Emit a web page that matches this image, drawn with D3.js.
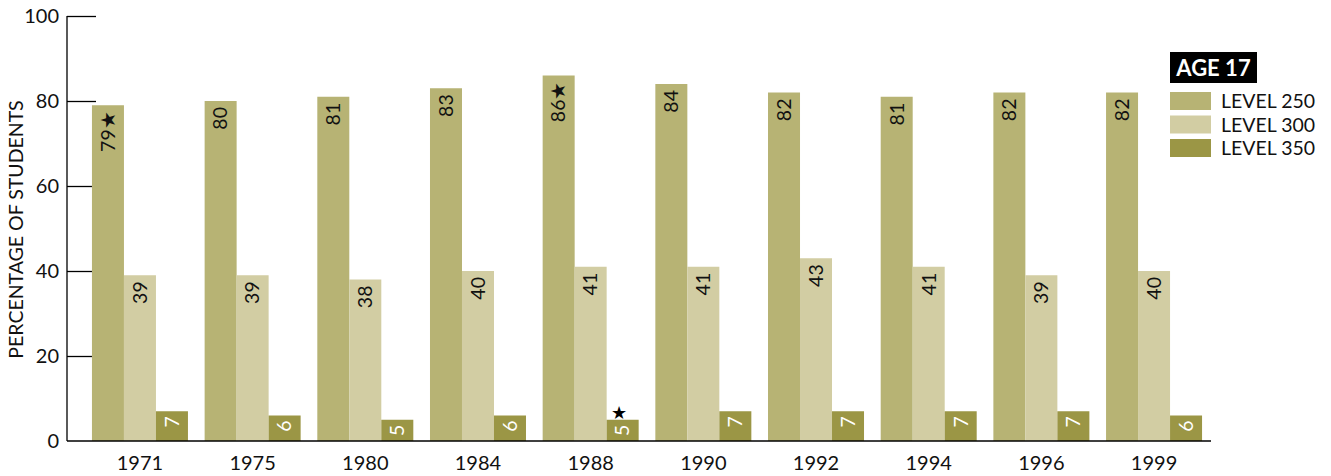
<!DOCTYPE html>
<html>
<head>
<meta charset="utf-8">
<script src="https://cdn.jsdelivr.net/npm/d3@7"></script>
<style>
  body { margin: 0; background: #fff; }
  svg { display: block; font-family: Lato, "Open Sans", sans-serif; }
</style>
</head>
<body>
<svg id="chart"></svg>
<script>
// chart data
var years = ["1971", "1975", "1980", "1984", "1988", "1990", "1992", "1994", "1996", "1999"];
var levels = ["LEVEL 250", "LEVEL 300", "LEVEL 350"];
var level250 = [79, 80, 81, 83, 86, 84, 82, 81, 82, 82];
var level300 = [39, 39, 38, 40, 41, 41, 43, 41, 39, 40];
var level350 = [7, 6, 5, 6, 5, 7, 7, 7, 7, 6];
// significance stars: [year, level index]
var starred = [["1971", 0], ["1988", 0], ["1988", 2]];
var yTicks = [0, 20, 40, 60, 80, 100];
var colors = ["#b7b374", "#d2cda3", "#9b9645"];

var width = 1331, height = 476;
var svg = d3.select("#chart").attr("width", width).attr("height", height);

var series = [level250, level300, level350];
var rows = years.map(function (yr, i) {
  return { year: yr, values: series.map(function (s) { return s[i]; }) };
});

// scales
var y = d3.scaleLinear().domain([0, 100]).range([441, 16]);
var x0 = d3.scaleBand().domain(years).range([83.5, 1210.5])
  .paddingInner(0.148).paddingOuter(0.075);
var x1 = d3.scaleBand().domain([0, 1, 2]).range([0, x0.bandwidth()]);

// y axis with ticks drawn to the right (behind bars)
var yAxis = svg.append("g")
  .attr("transform", "translate(67,0)")
  .call(d3.axisRight(y).tickValues(yTicks.filter(function (d) { return d > 0; }))
    .tickSize(29).tickFormat(""));
yAxis.select(".domain").remove();
yAxis.selectAll("line").attr("stroke", "#000").attr("stroke-width", 1.3);

svg.append("line")
  .attr("x1", 67).attr("x2", 67).attr("y1", y(100)).attr("y2", y(0))
  .attr("stroke", "#000").attr("stroke-width", 1.3);

svg.append("g").selectAll("text")
  .data(yTicks).enter().append("text")
  .attr("x", 59).attr("y", function (d) { return y(d); })
  .attr("dy", "0.35em")
  .attr("text-anchor", "end")
  .attr("font-size", 20)
  .attr("fill", "#111")
  .text(function (d) { return d; });

svg.append("text")
  .attr("transform", "translate(23," + (y(50) + 1) + ") rotate(-90)")
  .attr("text-anchor", "middle")
  .attr("font-size", 19.5)
  .attr("fill", "#111")
  .text("PERCENTAGE OF STUDENTS");

// bars
var groups = svg.append("g").selectAll("g")
  .data(rows).enter().append("g")
  .attr("transform", function (d) { return "translate(" + x0(d.year) + ",0)"; });

groups.selectAll("rect")
  .data(function (d) { return d.values.map(function (v, k) { return { year: d.year, k: k, v: v }; }); })
  .enter().append("rect")
  .attr("x", function (d) { return x1(d.k); })
  .attr("width", x1.bandwidth())
  .attr("y", function (d) { return y(d.v); })
  .attr("height", function (d) { return y(0) - y(d.v); })
  .attr("fill", function (d) { return colors[d.k]; });

// rotated value labels
groups.selectAll("text.val")
  .data(function (d) { return d.values.map(function (v, k) { return { year: d.year, k: k, v: v }; }); })
  .enter().append("text")
  .attr("class", "val")
  .attr("transform", function (d) {
    var off = d.k === 2 ? 5 : 6;
    return "translate(" + (x1(d.k) + x1.bandwidth() / 2) + "," + (y(d.v) + off) + ") rotate(-90)";
  })
  .attr("text-anchor", "end")
  .attr("dy", "0.35em")
  .attr("font-size", 19.5)
  .attr("fill", function (d) { return d.k === 2 ? "#fff" : "#111"; })
  .text(function (d) {
    var star = starred.some(function (s) { return s[0] === d.year && s[1] === d.k && d.k !== 2; });
    return d.v + (star ? "\u2605" : "");
  });

// star above the small bar
starred.filter(function (s) { return s[1] === 2; }).forEach(function (s) {
  var i = years.indexOf(s[0]);
  svg.append("text")
    .attr("x", x0(s[0]) + x1(2) + x1.bandwidth() / 2 - 4)
    .attr("y", y(level350[i]) - 0.5)
    .attr("text-anchor", "middle")
    .attr("font-size", 18)
    .attr("fill", "#000")
    .text("\u2605");
});

// x axis baseline
svg.append("line")
  .attr("x1", 67).attr("x2", 1211).attr("y1", y(0)).attr("y2", y(0))
  .attr("stroke", "#000").attr("stroke-width", 1.3);

svg.append("g").selectAll("text")
  .data(years).enter().append("text")
  .attr("x", function (d) { return x0(d) + x0.bandwidth() / 2; })
  .attr("y", 470)
  .attr("text-anchor", "middle")
  .attr("font-size", 20)
  .attr("fill", "#111")
  .text(function (d) { return d; });

// legend
var legend = svg.append("g");
legend.append("rect")
  .attr("x", 1170).attr("y", 52).attr("width", 87).attr("height", 31)
  .attr("fill", "#000");
legend.append("text")
  .attr("x", 1213.5).attr("y", 75.5)
  .attr("text-anchor", "middle")
  .attr("font-size", 22).attr("font-weight", "bold")
  .attr("fill", "#fff")
  .text("AGE 17");

var items = legend.selectAll("g.item")
  .data(levels).enter().append("g")
  .attr("transform", function (d, i) { return "translate(1170," + (92 + i * 23.5) + ")"; });
items.append("rect")
  .attr("width", 41).attr("height", 18)
  .attr("fill", function (d, i) { return colors[i]; });
items.append("text")
  .attr("x", 51).attr("y", 9).attr("dy", "0.36em")
  .attr("font-size", 19.5)
  .attr("fill", "#111")
  .text(function (d) { return d; });
</script>
</body>
</html>
